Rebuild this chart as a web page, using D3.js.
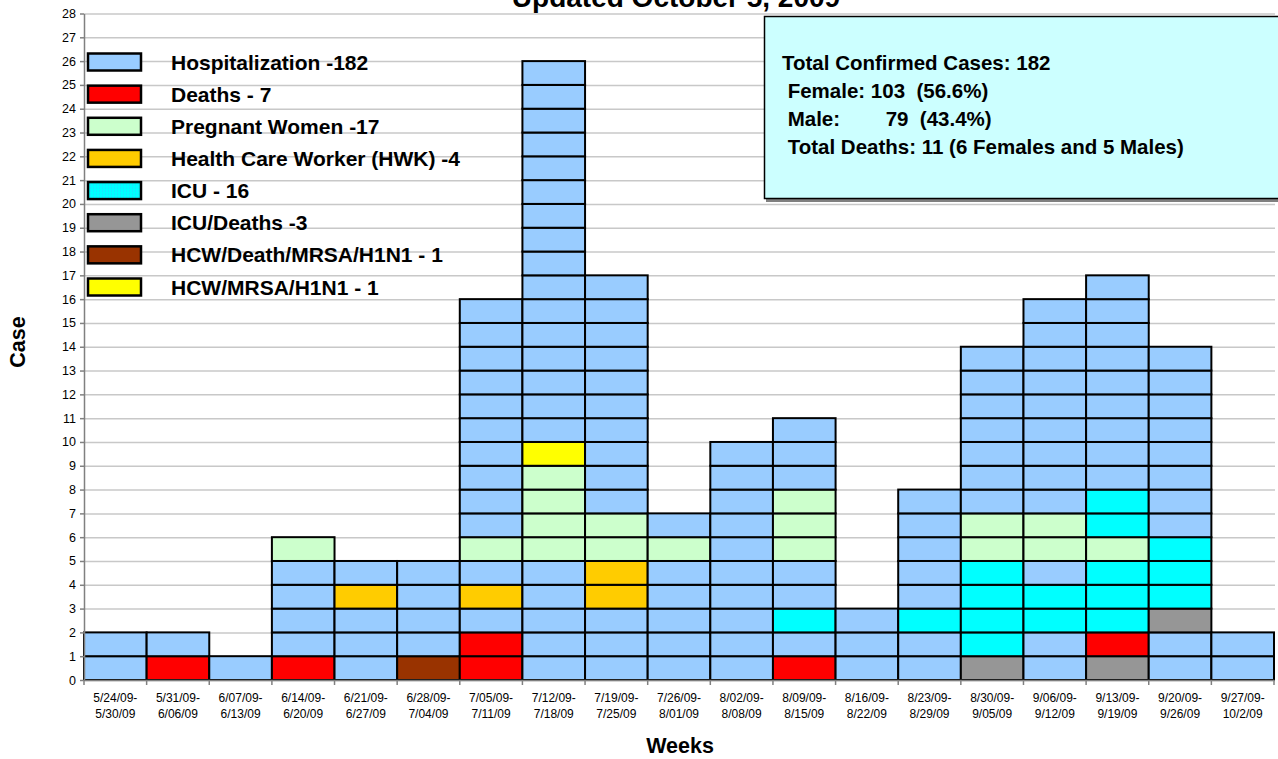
<!DOCTYPE html>
<html>
<head>
  <meta http-equiv="Content-Type" content="text/html; charset=UTF-8">
  <style>
    body { margin: 0; background: #fff; }
    svg { font-family: "Liberation Sans", Arial, sans-serif; }
    .grid line { stroke: #c8c8c8; stroke-width: 1.5px; }
    .grid path { display: none; }
    .axis path, .axis line { stroke: #808080; stroke-width: 1.5px; }
    .axis text { font-size: 12px; fill: #000; font-family: "Liberation Sans", Arial, sans-serif; }
    .cell { stroke: #000; stroke-width: 2px; }
    .legend text { font-size: 21px; font-weight: bold; fill: #000; }
    .note text { font-size: 20.5px; font-weight: bold; fill: #000; }
  </style>
</head>
<body>
  <svg width="1278" height="759"></svg>
  <script src="https://cdn.jsdelivr.net/npm/d3@7"></script>
  <script>
    // week labels (two lines each)
    var weekStart = ["5/24/09-", "5/31/09-", "6/07/09-", "6/14/09-", "6/21/09-", "6/28/09-", "7/05/09-",
                     "7/12/09-", "7/19/09-", "7/26/09-", "8/02/09-", "8/09/09-", "8/16/09-", "8/23/09-",
                     "8/30/09-", "9/06/09-", "9/13/09-", "9/20/09-", "9/27/09-"];
    var weekEnd = ["5/30/09", "6/06/09", "6/13/09", "6/20/09", "6/27/09", "7/04/09", "7/11/09",
                   "7/18/09", "7/25/09", "8/01/09", "8/08/09", "8/15/09", "8/22/09", "8/29/09",
                   "9/05/09", "9/12/09", "9/19/09", "9/26/09", "10/2/09"];

    // category codes, labels and colours
    var catKeys = ["H", "D", "P", "W", "I", "G", "B", "Y"];
    var catLabels = ["Hospitalization -182", "Deaths - 7", "Pregnant Women -17", "Health Care Worker (HWK) -4",
                     "ICU - 16", "ICU/Deaths -3", "HCW/Death/MRSA/H1N1 - 1", "HCW/MRSA/H1N1 - 1"];
    var catColors = ["#99ccff", "#ff0000", "#ccffcc", "#ffcc00", "#00ffff", "#969696", "#993300", "#ffff00"];

    // one case per character, bottom to top
    var stacks = [
      "HH",
      "DH",
      "H",
      "DHHHHP",
      "HHHWH",
      "BHHHH",
      "DDHWHPHHHHHHHHHH",
      "HHHHHPPPPYHHHHHHHHHHHHHHHH",
      "HHHWWPPHHHHHHHHHH",
      "HHHHHPH",
      "HHHHHHHHHH",
      "DHIHHPPPHHH",
      "HHH",
      "HHIHHHHH",
      "GIIIIPPHHHHHHH",
      "HHIIHPPHHHHHHHHH",
      "GDIIIPIIHHHHHHHHH",
      "HHGIIIHHHHHHHH",
      "HH"
    ];

    var yTicks = d3.range(0, 29);

    var noteLines = ["Total Confirmed Cases: 182",
                     " Female: 103  (56.6%)",
                     " Male:        79  (43.4%)",
                     " Total Deaths: 11 (6 Females and 5 Males)"];

    var svg = d3.select("svg"),
        margin = {top: 13.5, left: 84, right: 4, bottom: 79},
        W = 1278, H = 759;

    var x = d3.scaleBand().domain(d3.range(weekStart.length)).range([margin.left, W - margin.right]).padding(0),
        y = d3.scaleLinear().domain([0, 28]).range([680, margin.top]),
        color = d3.scaleOrdinal().domain(catKeys).range(catColors);

    // gridlines
    svg.append("g")
        .attr("class", "grid")
        .attr("transform", "translate(" + margin.left + ",0)")
        .call(d3.axisRight(y).tickValues(yTicks).tickSize(W - margin.right - margin.left + 1).tickFormat(""));

    // title (cropped at top, as in the source)
    svg.append("text")
        .attr("x", 676).attr("y", 7)
        .attr("text-anchor", "middle")
        .style("font-size", "28px").style("font-weight", "bold")
        .text("Updated October 5, 2009");

    // cells
    var cells = [];
    stacks.forEach(function(s, i) {
      s.split("").forEach(function(k, j) { cells.push({week: i, level: j, key: k}); });
    });

    svg.append("g").selectAll("rect")
        .data(cells)
        .enter().append("rect")
        .attr("class", "cell")
        .attr("x", function(d) { return x(d.week); })
        .attr("width", x.bandwidth())
        .attr("y", function(d) { return y(d.level + 1); })
        .attr("height", function(d) { return y(d.level) - y(d.level + 1); })
        .attr("fill", function(d) { return color(d.key); });

    // y axis
    var yAxis = svg.append("g")
        .attr("class", "axis")
        .attr("transform", "translate(" + margin.left + ",0)")
        .call(d3.axisLeft(y).tickValues(yTicks).tickSize(4).tickPadding(4).tickSizeOuter(0));
    yAxis.selectAll("text").style("font-size", "12.5px");

    // x axis
    var xAxis = svg.append("g")
        .attr("class", "axis")
        .attr("transform", "translate(0,680)")
        .call(d3.axisBottom(x).tickSize(0).tickFormat(""));
    xAxis.selectAll(".sep")
        .data(d3.range(weekStart.length + 1))
        .enter().append("line")
        .attr("x1", function(i) { return i < weekStart.length ? x(i) : x(i - 1) + x.bandwidth(); })
        .attr("x2", function(i) { return i < weekStart.length ? x(i) : x(i - 1) + x.bandwidth(); })
        .attr("y1", 0).attr("y2", 5)
        .attr("stroke", "#808080").attr("stroke-width", 1.5);
    var lbl = xAxis.selectAll(".lbl")
        .data(d3.range(weekStart.length))
        .enter().append("text")
        .attr("text-anchor", "middle")
        .attr("x", function(i) { return x(i) + x.bandwidth() / 2; });
    lbl.append("tspan").attr("y", 22).text(function(i) { return weekStart[i]; });
    lbl.append("tspan").attr("x", function(i) { return x(i) + x.bandwidth() / 2; })
        .attr("y", 38).text(function(i) { return weekEnd[i]; });

    // axis titles
    svg.append("text")
        .attr("x", 680).attr("y", 753)
        .attr("text-anchor", "middle")
        .style("font-size", "21.5px").style("font-weight", "bold")
        .text("Weeks");
    svg.append("text")
        .attr("transform", "translate(25,342) rotate(-90)")
        .attr("text-anchor", "middle")
        .style("font-size", "21.5px").style("font-weight", "bold")
        .text("Case");

    // legend
    var defs = svg.append("defs");
    var pat = defs.append("pattern").attr("id", "dots")
        .attr("width", 3).attr("height", 3).attr("patternUnits", "userSpaceOnUse");
    pat.append("rect").attr("width", 3).attr("height", 3).attr("fill", "#00ffff");
    pat.append("rect").attr("width", 1).attr("height", 1).attr("fill", "#33ccff");

    var legend = svg.append("g").attr("class", "legend");
    var rowY = d3.scalePoint().domain(catKeys).range([62, 287]);
    var row = legend.selectAll("g")
        .data(catKeys)
        .enter().append("g")
        .attr("transform", function(k) { return "translate(0," + rowY(k) + ")"; });
    row.append("rect")
        .attr("x", 88).attr("y", -8.5).attr("width", 53).attr("height", 17)
        .attr("fill", function(k) { return k === "I" ? "url(#dots)" : color(k); })
        .attr("stroke", "#000").attr("stroke-width", 2.5);
    row.append("text")
        .attr("x", 171).attr("y", 7.5)
        .text(function(k, i) { return catLabels[i]; });

    // summary box
    var note = svg.append("g").attr("class", "note");
    note.append("rect")
        .attr("x", 766).attr("y", 18).attr("width", 520).attr("height", 184)
        .attr("fill", "#808080");
    note.append("rect")
        .attr("x", 764.5).attr("y", 16.5).attr("width", 520).attr("height", 182)
        .attr("fill", "#ccffff").attr("stroke", "#000").attr("stroke-width", 1.5);
    note.selectAll("text")
        .data(noteLines)
        .enter().append("text")
        .attr("x", 782)
        .attr("y", function(d, i) { return 69.5 + i * 28.3; })
        .attr("xml:space", "preserve")
        .style("white-space", "pre")
        .text(function(d) { return d; });
  </script>
</body>
</html>
